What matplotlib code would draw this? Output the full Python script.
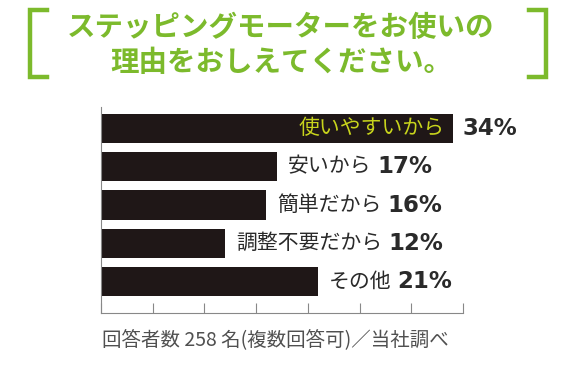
import matplotlib
matplotlib.use("Agg")
import matplotlib.pyplot as plt
from matplotlib.lines import Line2D

plt.rcParams['font.family'] = ['Noto Sans CJK JP', 'DejaVu Sans']

GREEN  = "#7cba2c"
YELLOW = "#c8d41c"
BAR    = "#1f1717"
TEXT   = "#2a2a2a"
NOTE   = "#505050"

# ── Data ──────────────────────────────────────────────────────────────────────
reasons = ['使いやすいから', '安いから', '簡単だから', '調整不要だから', 'その他']
shares  = [34, 17, 16, 12, 21]
title_lines = ['ステッピングモーターをお使いの', '理由をおしえてください。']
note = '回答者数 258 名(複数回答可)／当社調べ'

W, H = 582, 370
fig = plt.figure(figsize=(W / 100, H / 100), dpi=100)
fig.patch.set_facecolor('white')

# axes placed in pixel terms
left, right, top, bottom = 101, 463, 107, 313
ax = fig.add_axes([left / W, 1 - bottom / H, (right - left) / W, (bottom - top) / H])

ypos = list(range(len(reasons)))
ax.barh(ypos, shares, height=0.76, color=BAR, zorder=2)
ax.set_xlim(0, 35)
ax.set_ylim(4.82, -0.56)

for sp in ['top', 'right']:
    ax.spines[sp].set_visible(False)
for sp in ['left', 'bottom']:
    ax.spines[sp].set_color('#888888')
    ax.spines[sp].set_linewidth(0.8)
ax.set_xticks(range(0, 36, 5))
ax.set_xticklabels([])
ax.tick_params(axis='x', direction='in', length=7, width=0.8, color='#888888')
ax.set_yticks([])

# ── Labels ────────────────────────────────────────────────────────────────────
for i, (lab, v) in enumerate(zip(reasons, shares)):
    if i == 0:
        ax.annotate(lab, xy=(v, i), xytext=(-6, 0), textcoords='offset points',
                    ha='right', va='center', fontsize=15, color=YELLOW)
        ax.annotate(f'{v}%', xy=(v, i), xytext=(7, 0), textcoords='offset points',
                    ha='left', va='center', fontsize=16.5, fontweight='bold',
                    color=TEXT, family=['DejaVu Sans'])
    else:
        t = ax.annotate(lab, xy=(v, i), xytext=(8, 0), textcoords='offset points',
                        ha='left', va='center', fontsize=15, color=TEXT)
        ax.annotate(f'{v}%', xy=(1, 0.5), xycoords=t, xytext=(4, 0),
                    textcoords='offset points', ha='left', va='center',
                    fontsize=16.5, fontweight='bold', color=TEXT,
                    family=['DejaVu Sans'])

# ── Title with brackets ───────────────────────────────────────────────────────
fig.text(281 / W, 1 - 28 / H, title_lines[0], ha='center', va='center',
         fontsize=20.5, fontweight='bold', color=GREEN)
fig.text(281 / W, 1 - 63 / H, title_lines[1], ha='center', va='center',
         fontsize=20.5, fontweight='bold', color=GREEN)

for xs, ys in [([47, 30, 30, 47], [10, 10, 77, 77]),
               ([529, 546, 546, 529], [10, 10, 77, 77])]:
    fx = [x / W for x in xs]
    fy = [1 - y / H for y in ys]
    fig.add_artist(Line2D(fx, fy, color=GREEN, lw=3.2, solid_joinstyle='miter'))

fig.text(102 / W, 1 - 341 / H, note, ha='left', va='center',
         fontsize=14, color=NOTE)

fig.savefig('out.png', dpi=100, facecolor='white')
